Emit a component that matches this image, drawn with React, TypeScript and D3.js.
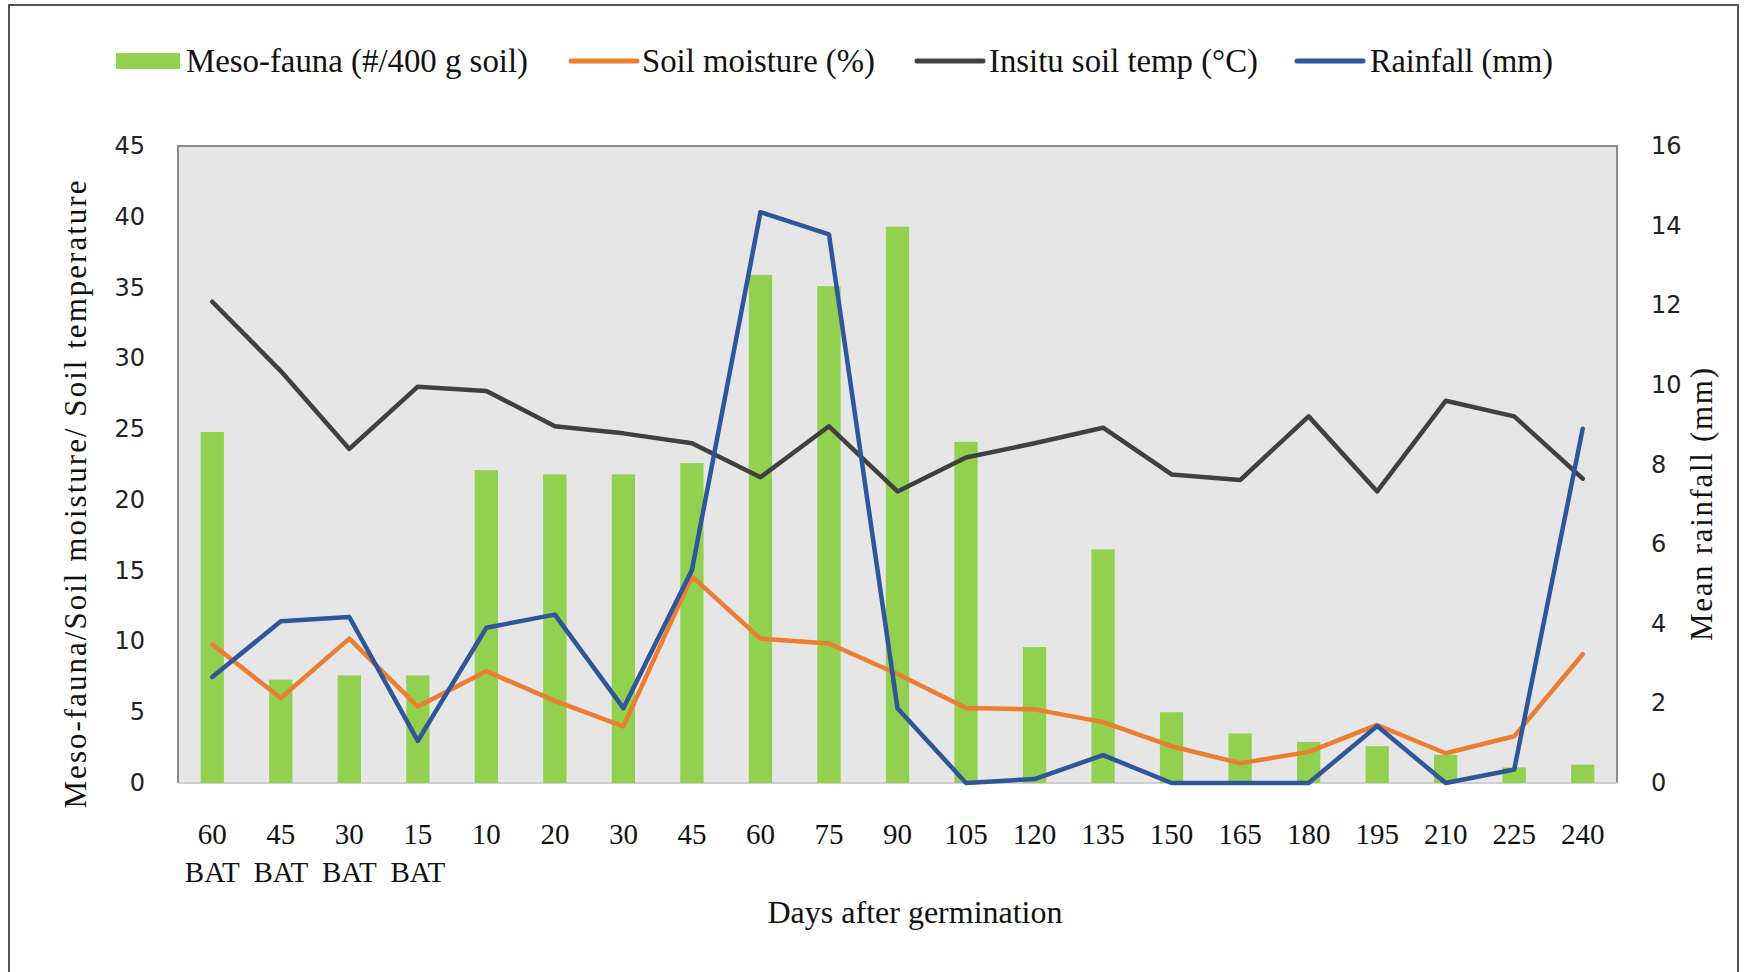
import React from "react";
import * as d3 from "d3";

const days = ["60", "45", "30", "15", "10", "20", "30", "45", "60", "75", "90", "105", "120", "135", "150", "165", "180", "195", "210", "225", "240"];
const batFlags = [true, true, true, true, false, false, false, false, false, false, false, false, false, false, false, false, false, false, false, false, false];

const mesoFauna = [24.8, 7.3, 7.6, 7.6, 22.1, 21.8, 21.8, 22.6, 35.9, 35.1, 39.3, 24.1, 9.6, 16.5, 5.0, 3.5, 2.9, 2.6, 2.0, 1.1, 1.3];
const soilMoisture = [9.8, 6.0, 10.2, 5.4, 7.9, 5.8, 4.0, 14.6, 10.2, 9.85, 7.7, 5.3, 5.2, 4.3, 2.6, 1.4, 2.2, 4.1, 2.1, 3.3, 9.1];
const soilTemp = [34.0, 29.1, 23.6, 28.0, 27.7, 25.2, 24.7, 24.0, 21.6, 25.2, 20.6, 23.0, 24.0, 25.1, 21.8, 21.4, 25.9, 20.6, 27.0, 25.9, 21.5];
const rainfall = [2.66, 4.06, 4.17, 1.06, 3.9, 4.23, 1.88, 5.35, 14.34, 13.78, 1.88, 0, 0.1, 0.7, 0, 0, 0, 1.43, 0, 0.34, 8.9];

const leftTicks = [0, 5, 10, 15, 20, 25, 30, 35, 40, 45];
const rightTicks = [0, 2, 4, 6, 8, 10, 12, 14, 16];

const W = 1749;
const H = 972;
const plot = { left: 178, right: 1617, top: 146, bottom: 783 };

const serif = "'Liberation Serif', 'Times New Roman', serif";
const sans = "'DejaVu Sans', Verdana, sans-serif";

const GREEN = "#92d050";
const ORANGE = "#ed7d31";
const DARK = "#404040";
const BLUE = "#2f559a";

export default function App() {
  const idx = days.map((_, i) => i);
  const x = d3.scaleBand<number>().domain(idx).range([plot.left, plot.right]).padding(0);
  const yL = d3.scaleLinear().domain([0, 45]).range([plot.bottom, plot.top]);
  const yR = d3.scaleLinear().domain([0, 16]).range([plot.bottom, plot.top]);
  const cx = (i: number) => (x(i) as number) + x.bandwidth() / 2;
  const barW = x.bandwidth() * 0.34;

  const lineL = d3.line<number>().x((_, i) => cx(i)).y((d) => yL(d));
  const lineR = d3.line<number>().x((_, i) => cx(i)).y((d) => yR(d));

  const legend = [
    { label: "Meso-fauna (#/400 g soil)", color: GREEN, bar: true, x: 116, tx: 186, len: 342 },
    { label: "Soil moisture (%)", color: ORANGE, bar: false, x: 571, tx: 642, len: 233 },
    { label: "Insitu soil temp (°C)", color: DARK, bar: false, x: 917, tx: 989, len: 269 },
    { label: "Rainfall (mm)", color: BLUE, bar: false, x: 1297, tx: 1370, len: 183 },
  ];
  const legY = 61;

  return (
    <svg width={W} height={H} style={{ position: "absolute", left: 0, top: 0, background: "#fff" }}>
      {/* outer frame */}
      <rect x={9} y={5} width={1729} height={980} fill="#fff" stroke="#555" strokeWidth={2} />

      {/* legend */}
      {legend.map((l) => (
        <g key={l.label}>
          {l.bar ? (
            <rect x={l.x} y={legY - 8} width={64} height={16} fill={l.color} />
          ) : (
            <line x1={l.x} x2={l.x + 66} y1={legY} y2={legY} stroke={l.color} strokeWidth={5} strokeLinecap="round" />
          )}
          <text
            x={l.tx}
            y={legY}
            dominantBaseline="central"
            fontFamily={serif}
            fontSize={33}
            fill="#111"
            textLength={l.len}
            lengthAdjust="spacingAndGlyphs"
          >
            {l.label}
          </text>
        </g>
      ))}

      {/* plot area */}
      <rect x={plot.left} y={plot.top} width={plot.right - plot.left} height={plot.bottom - plot.top} fill="#e6e6e6" />
      <path
        d={`M${plot.left},${plot.bottom}V${plot.top}H${plot.right}V${plot.bottom}`}
        fill="none"
        stroke="#8a8a8a"
        strokeWidth={2}
      />
      <line x1={plot.left} x2={plot.right} y1={plot.bottom} y2={plot.bottom} stroke="#cfcfcf" strokeWidth={2} />

      {/* bars */}
      {mesoFauna.map((v, i) => (
        <rect key={i} x={cx(i) - barW / 2} y={yL(v)} width={barW} height={yL(0) - yL(v)} fill={GREEN} />
      ))}

      {/* lines */}
      <path d={lineL(soilMoisture) || ""} fill="none" stroke={ORANGE} strokeWidth={4.5} strokeLinejoin="round" strokeLinecap="round" />
      <path d={lineL(soilTemp) || ""} fill="none" stroke={DARK} strokeWidth={4.5} strokeLinejoin="round" strokeLinecap="round" />
      <path d={lineR(rainfall) || ""} fill="none" stroke={BLUE} strokeWidth={4.5} strokeLinejoin="round" strokeLinecap="round" />

      {/* left axis */}
      {leftTicks.map((t) => (
        <text key={t} x={145} y={yL(t)} textAnchor="end" dominantBaseline="central" fontFamily={sans} fontSize={24} fill="#222">
          {t}
        </text>
      ))}
      <text
        transform={`translate(75,${(plot.top + plot.bottom) / 2 + 30}) rotate(-90)`}
        textAnchor="middle"
        dominantBaseline="central"
        fontFamily={serif}
        fontSize={31}
        fill="#111"
        textLength={628}
        lengthAdjust="spacing"
      >
        Meso-fauna/Soil moisture/ Soil temperature
      </text>

      {/* right axis */}
      {rightTicks.map((t) => (
        <text key={t} x={1651} y={yR(t)} textAnchor="start" dominantBaseline="central" fontFamily={sans} fontSize={24} fill="#222">
          {t}
        </text>
      ))}
      <text
        transform={`translate(1701,${(plot.top + plot.bottom) / 2 + 40}) rotate(-90)`}
        textAnchor="middle"
        dominantBaseline="central"
        fontFamily={serif}
        fontSize={31}
        fill="#111"
        textLength={273}
        lengthAdjust="spacing"
      >
        Mean rainfall (mm)
      </text>

      {/* x axis labels */}
      {days.map((d, i) => (
        <g key={i}>
          <text x={cx(i)} y={834} textAnchor="middle" dominantBaseline="central" fontFamily={serif} fontSize={29} fill="#111">
            {d}
          </text>
          {batFlags[i] && (
            <text x={cx(i)} y={872} textAnchor="middle" dominantBaseline="central" fontFamily={serif} fontSize={29} fill="#111">
              BAT
            </text>
          )}
        </g>
      ))}
      <text x={915} y={912} textAnchor="middle" dominantBaseline="central" fontFamily={serif} fontSize={32} fill="#111">
        Days after germination
      </text>
    </svg>
  );
}
